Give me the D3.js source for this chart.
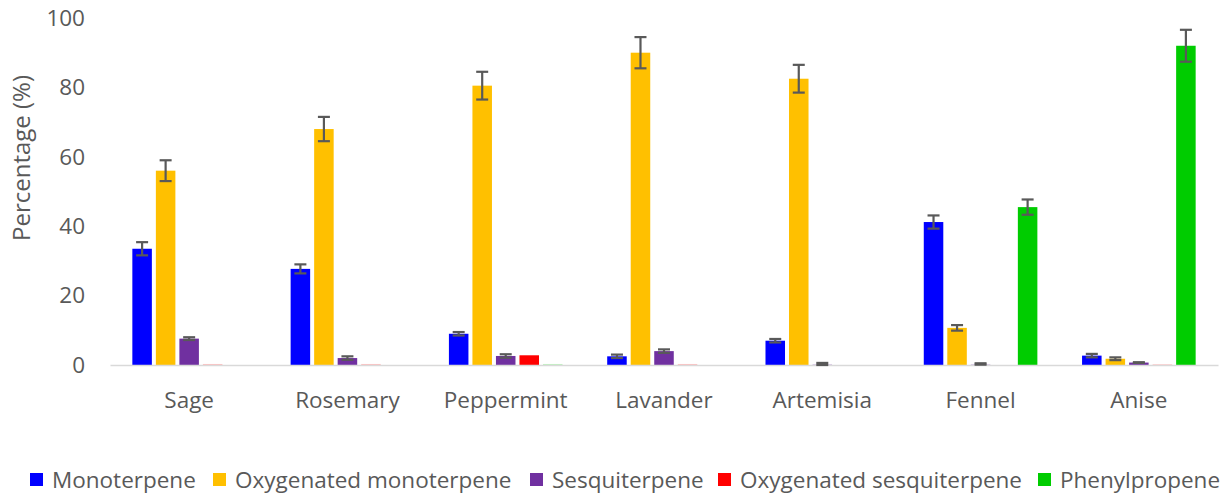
<!DOCTYPE html>
<html>
<head>
<meta charset="utf-8">
<script src="https://cdn.jsdelivr.net/npm/d3@7"></script>
<style>
  body { margin: 0; background: #fff; }
  text { font-family: "Open Sans", sans-serif; fill: #595959; }
</style>
</head>
<body>
<div id="chart"></div>
<script>
// Data
const categories = ['Sage', 'Rosemary', 'Peppermint', 'Lavander', 'Artemisia', 'Fennel', 'Anise'];
const seriesNames = ['Monoterpene', 'Oxygenated monoterpene', 'Sesquiterpene', 'Oxygenated sesquiterpene', 'Phenylpropene'];
const colors = ['#0000ff', '#ffc000', '#7030a0', '#ff0000', '#00cc00'];

const monoterpene = [33.5, 27.7, 9.0, 2.5, 7.0, 41.2, 2.7];
const oxyMonoterpene = [56.0, 68.0, 80.5, 90.0, 82.5, 10.7, 1.8];
const sesquiterpene = [7.6, 2.0, 2.6, 4.0, 0.3, 0.3, 0.7];
const oxySesquiterpene = [0.3, 0.3, 2.8, 0.3, 0, 0, 0.2];
const phenylpropene = [0, 0, 0.3, 0, 0, 45.5, 92.0];

const monoErr = [1.9, 1.3, 0.5, 0.5, 0.5, 1.9, 0.5];
const oxyMonoErr = [3.0, 3.5, 4.0, 4.5, 4.0, 0.8, 0.4];
const sesqErr = [0.4, 0.5, 0.5, 0.5, 0.3, 0.2, 0.1];
const oxySesqErr = [0, 0, 0, 0, 0, 0, 0];
const phenylErr = [0, 0, 0, 0, 0, 2.2, 4.6];

const yTicks = [0, 20, 40, 60, 80, 100];

const values = [monoterpene, oxyMonoterpene, sesquiterpene, oxySesquiterpene, phenylpropene];
const errors = [monoErr, oxyMonoErr, sesqErr, oxySesqErr, phenylErr];

const width = 1225, height = 494;
const margin = { top: 18, right: 7, bottom: 129, left: 110 };

const svg = d3.select('#chart')
  .append('svg')
  .attr('width', width)
  .attr('height', height);

const x0 = d3.scaleBand()
  .domain(categories)
  .range([margin.left, width - margin.right])
  .paddingInner(0)
  .paddingOuter(0);

const x1 = d3.scaleBand()
  .domain(seriesNames)
  .range([0, x0.bandwidth()])
  .paddingOuter(0.95)
  .paddingInner(0.17);

const y = d3.scaleLinear()
  .domain([0, 100])
  .range([height - margin.bottom, margin.top]);

// y-axis tick labels
svg.append('g')
  .attr('transform', `translate(${margin.left - 25},0)`)
  .call(d3.axisLeft(y).tickValues(yTicks).tickSize(0).tickPadding(0))
  .call(g => g.select('.domain').remove())
  .call(g => g.selectAll('text')
    .style('font-size', '22.5px')
    .style('fill', '#595959'));

// y-axis title
svg.append('text')
  .attr('transform', 'translate(30, 158) rotate(-90)')
  .attr('text-anchor', 'middle')
  .style('font-size', '24px')
  .text('Percentage (%)');

// bars
const groups = svg.selectAll('.group')
  .data(categories)
  .enter().append('g')
  .attr('class', 'group')
  .attr('transform', d => `translate(${x0(d)},0)`);

groups.selectAll('rect')
  .data((c, i) => seriesNames.map((s, j) => ({ s, j, v: values[j][i], e: errors[j][i] })))
  .enter().append('rect')
  .attr('x', d => x1(d.s))
  .attr('width', x1.bandwidth())
  .attr('y', d => y(d.v))
  .attr('height', d => y(0) - y(d.v))
  .attr('fill', d => colors[d.j])
  .attr('fill-opacity', d => d.v < 0.5 ? 0.25 : 1);

// x axis line
svg.append('g')
  .attr('transform', `translate(0,${y(0)})`)
  .call(d3.axisBottom(x0).tickSize(0).tickPadding(27))
  .call(g => g.select('.domain').attr('stroke', '#d9d9d9').attr('stroke-width', 1.5))
  .call(g => g.selectAll('text')
    .style('font-size', '22.5px')
    .style('fill', '#595959'));

// error bars
const errData = [];
categories.forEach((c, i) => {
  seriesNames.forEach((s, j) => {
    if (errors[j][i] > 0) errData.push({ c, s, v: values[j][i], e: errors[j][i] });
  });
});

const eb = svg.selectAll('.err')
  .data(errData)
  .enter().append('g')
  .attr('class', 'err')
  .attr('transform', d => `translate(${x0(d.c) + x1(d.s) + x1.bandwidth() / 2},0)`)
  .attr('stroke', '#595959')
  .attr('stroke-width', 2.2);

eb.append('line')
  .attr('y1', d => y(d.v + d.e))
  .attr('y2', d => y(Math.max(0, d.v - d.e)));
eb.append('line')
  .attr('x1', -6).attr('x2', 6)
  .attr('y1', d => y(d.v + d.e)).attr('y2', d => y(d.v + d.e));
eb.append('line')
  .attr('x1', -6).attr('x2', 6)
  .attr('y1', d => y(Math.max(0, d.v - d.e))).attr('y2', d => y(Math.max(0, d.v - d.e)));

// legend
const legendX = [30, 213, 530, 718, 1038];
const legend = svg.selectAll('.legend')
  .data(seriesNames)
  .enter().append('g')
  .attr('class', 'legend')
  .attr('transform', (d, i) => `translate(${legendX[i]},473)`);

legend.append('rect')
  .attr('width', 13)
  .attr('height', 13)
  .attr('fill', (d, i) => colors[i]);

legend.append('text')
  .attr('x', 22)
  .attr('y', 7)
  .attr('dy', '0.35em')
  .style('font-size', '22.5px')
  .text(d => d);
</script>
</body>
</html>
